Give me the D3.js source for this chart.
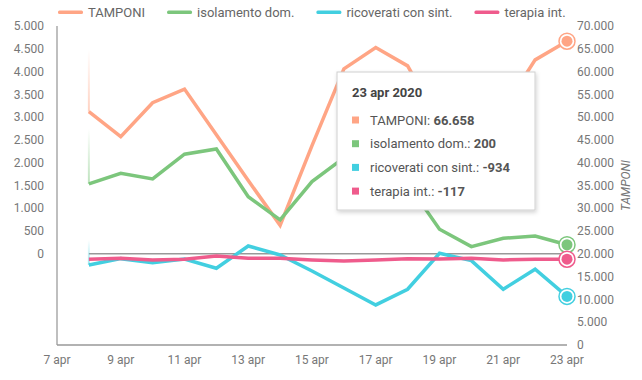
<!DOCTYPE html>
<meta charset="utf-8">
<script src="https://d3js.org/d3.v7.min.js"></script>
<style>
    body { margin: 0; background: #fff; font-family: Roboto, "Noto Sans", sans-serif; }
    .tick-label { fill: #777; font-size: 12px; }
</style>
<div id="chart"></div>
<script>

// ---- data ----
var days = ["2020-04-08","2020-04-09","2020-04-10","2020-04-11","2020-04-12","2020-04-13","2020-04-14","2020-04-15",
            "2020-04-16","2020-04-17","2020-04-18","2020-04-19","2020-04-20","2020-04-21","2020-04-22","2020-04-23"];
var tamponi    = [51188, 45719, 53156, 56153, 46156, 36094, 26250, 43750, 60594, 65260, 61250, 48781, 47031, 51625, 62563, 66658];
var isolamento = [1534, 1769, 1644, 2186, 2302, 1255, 744, 1585, 2109, 2000, 1543, 540, 158, 342, 393, 200];
var ricoverati = [-244, -105, -193, -115, -316, 173, -24, -375, -748, -1121, -777, 13, -149, -777, -338, -934];
var terapia    = [-118, -97, -134, -118, -46, -97, -97, -134, -156, -134, -105, -112, -97, -134, -118, -117];

var seriesNames = ["TAMPONI", "isolamento dom.", "ricoverati con sint.", "terapia int."];
var seriesColors = ["#ffa585", "#7cc67c", "#42cfe0", "#ef5b8c"];
var seriesAxis = ["right", "left", "left", "left"];
var fadeLen = [62, 55, 25, 0];

var xTicks = ["2020-04-07","2020-04-09","2020-04-11","2020-04-13","2020-04-15","2020-04-17","2020-04-19","2020-04-21","2020-04-23"];
var leftTicks = [0, 500, 1000, 1500, 2000, 2500, 3000, 3500, 4000, 4500, 5000];
var rightTicks = [0, 5000, 10000, 15000, 20000, 25000, 30000, 35000, 40000, 45000, 50000, 55000, 60000, 65000, 70000];
var mesi = ["gen","feb","mar","apr","mag","giu","lug","ago","set","ott","nov","dic"];

// ---- setup ----
var W = 642, H = 380;
var plot = {left: 57, right: 567, top: 26, bottom: 345};

var parse = d3.timeParse("%Y-%m-%d");
var it = d3.formatLocale({decimal: ",", thousands: ".", grouping: [3], currency: ["€", ""], minus: "-"});
var fmt = it.format(",d");

var x = d3.scaleTime()
    .domain([parse("2020-04-07"), parse("2020-04-23")])
    .range([plot.left, plot.right]);
var yL = d3.scaleLinear().domain([-2000, 5000]).range([plot.bottom, plot.top]);
var yR = d3.scaleLinear().domain([0, 70000]).range([plot.bottom, plot.top]);

var svg = d3.select("#chart").append("svg")
    .attr("width", W).attr("height", H);

var defs = svg.append("defs");
var shadow = defs.append("filter").attr("id", "shadow").attr("x", "-10%").attr("y", "-10%").attr("width", "130%").attr("height", "130%");
shadow.append("feDropShadow").attr("dx", 1).attr("dy", 2).attr("stdDeviation", 2).attr("flood-color", "#000").attr("flood-opacity", 0.18);

// axes lines
svg.append("line")
    .attr("x1", plot.left).attr("x2", plot.left)
    .attr("y1", plot.top).attr("y2", plot.bottom)
    .style("stroke", "#aaa").style("stroke-width", 1.5);
svg.append("line")
    .attr("x1", plot.left).attr("x2", plot.right)
    .attr("y1", plot.bottom).attr("y2", plot.bottom)
    .style("stroke", "#999").style("stroke-width", 1.5);

// zero line on left axis
svg.append("line")
    .attr("x1", x(parse(days[0]))).attr("x2", x(parse(days[days.length - 1])))
    .attr("y1", yL(0)).attr("y2", yL(0))
    .style("stroke", "#999").style("stroke-width", 1.5);

// left tick labels
svg.append("g").selectAll("text")
    .data(leftTicks).enter().append("text")
    .attr("class", "tick-label")
    .attr("x", plot.left - 13)
    .attr("y", function(d) { return yL(d); })
    .attr("dy", "0.35em")
    .style("text-anchor", "end")
    .text(function(d) { return fmt(d); });

// right tick labels
svg.append("g").selectAll("text")
    .data(rightTicks).enter().append("text")
    .attr("class", "tick-label")
    .attr("x", plot.right + 10)
    .attr("y", function(d) { return yR(d); })
    .attr("dy", "0.35em")
    .text(function(d) { return fmt(d); });

svg.append("text")
    .attr("class", "tick-label")
    .attr("transform", "translate(" + (plot.right + 63) + "," + ((plot.top + plot.bottom) / 2) + ") rotate(-90)")
    .style("text-anchor", "middle")
    .style("font-style", "italic")
    .text("TAMPONI");

// x tick labels
svg.append("g").selectAll("text")
    .data(xTicks).enter().append("text")
    .attr("class", "tick-label")
    .attr("x", function(d) { return x(parse(d)); })
    .attr("y", plot.bottom + 15)
    .attr("dy", "0.35em")
    .style("text-anchor", "middle")
    .text(function(d) { var t = parse(d); return t.getDate() + " " + mesi[t.getMonth()]; });

// series
var allValues = [tamponi, isolamento, ricoverati, terapia];
var series = seriesNames.map(function(n, i) {
    var sc = seriesAxis[i] == "right" ? yR : yL;
    return {
        name: n, color: seriesColors[i], y: sc, fade: fadeLen[i],
        values: days.map(function(d, j) { return {date: parse(d), v: allValues[i][j]}; })
    };
});

// faded vertical stub at start of each line
series.forEach(function(s, i) {
    if (!s.fade) return;
    var g = defs.append("linearGradient").attr("id", "fade" + i)
        .attr("x1", 0).attr("x2", 0).attr("y1", 0).attr("y2", 1);
    g.append("stop").attr("offset", "0%").attr("stop-color", s.color).attr("stop-opacity", 0);
    g.append("stop").attr("offset", "100%").attr("stop-color", s.color).attr("stop-opacity", 0.5);
    var x0 = x(s.values[0].date), y0 = s.y(s.values[0].v);
    svg.append("rect")
        .attr("x", x0 - 1).attr("width", 2)
        .attr("y", y0 - s.fade).attr("height", s.fade)
        .style("fill", "url(#fade" + i + ")");
});

var line = function(s) {
    return d3.line()
        .x(function(d) { return x(d.date); })
        .y(function(d) { return s.y(d.v); })(s.values);
};

svg.append("g").selectAll("path")
    .data(series).enter().append("path")
    .attr("d", function(s) { return line(s); })
    .style("fill", "none")
    .style("stroke", function(s) { return s.color; })
    .style("stroke-width", 3.5)
    .style("stroke-linejoin", "miter");

// hover markers on last point
var markers = svg.append("g").selectAll("g")
    .data(series).enter().append("g")
    .attr("transform", function(s) {
        var last = s.values[s.values.length - 1];
        return "translate(" + x(last.date) + "," + s.y(last.v) + ")";
    });
markers.append("circle")
    .attr("r", 8)
    .style("fill", "#fff")
    .style("stroke", function(s) { return s.color; })
    .style("stroke-width", 1.5);
markers.append("circle")
    .attr("r", 5.5)
    .style("fill", function(s) { return s.color; });

// legend
var legend = svg.append("g");
var lx = 58;
series.forEach(function(s) {
    legend.append("rect")
        .attr("x", lx).attr("y", 10.5)
        .attr("width", 25).attr("height", 3.5)
        .attr("rx", 1.5)
        .style("fill", s.color);
    var t = legend.append("text")
        .attr("x", lx + 30).attr("y", 12)
        .attr("dy", "0.35em")
        .style("font-size", "13px")
        .style("fill", "#666")
        .text(s.name);
    lx += 30 + t.node().getComputedTextLength() + 22;
});

// tooltip for last day
var tip = svg.append("g").attr("transform", "translate(337,72)");
tip.append("rect")
    .attr("width", 198).attr("height", 138)
    .style("fill", "#fff")
    .style("stroke", "#d0d0d0")
    .style("filter", "url(#shadow)");
var lastDate = parse(days[days.length - 1]);
tip.append("text")
    .attr("x", 15).attr("y", 20)
    .attr("dy", "0.35em")
    .style("font-size", "13px")
    .style("font-weight", "bold")
    .style("fill", "#444")
    .text(lastDate.getDate() + " " + mesi[lastDate.getMonth()] + " " + lastDate.getFullYear());
var rows = tip.selectAll(".row")
    .data(series).enter().append("g")
    .attr("class", "row")
    .attr("transform", function(s, i) { return "translate(15," + (48 + i * 23.7) + ")"; });
rows.append("rect")
    .attr("x", 0).attr("y", -3.5)
    .attr("width", 7).attr("height", 7)
    .style("fill", function(s) { return s.color; });
var rt = rows.append("text")
    .attr("x", 18)
    .attr("dy", "0.35em")
    .style("font-size", "13px")
    .style("fill", "#555");
rt.append("tspan").text(function(s) { return s.name + ": "; });
rt.append("tspan")
    .style("font-weight", "bold")
    .text(function(s) { return fmt(s.values[s.values.length - 1].v); });

</script>
